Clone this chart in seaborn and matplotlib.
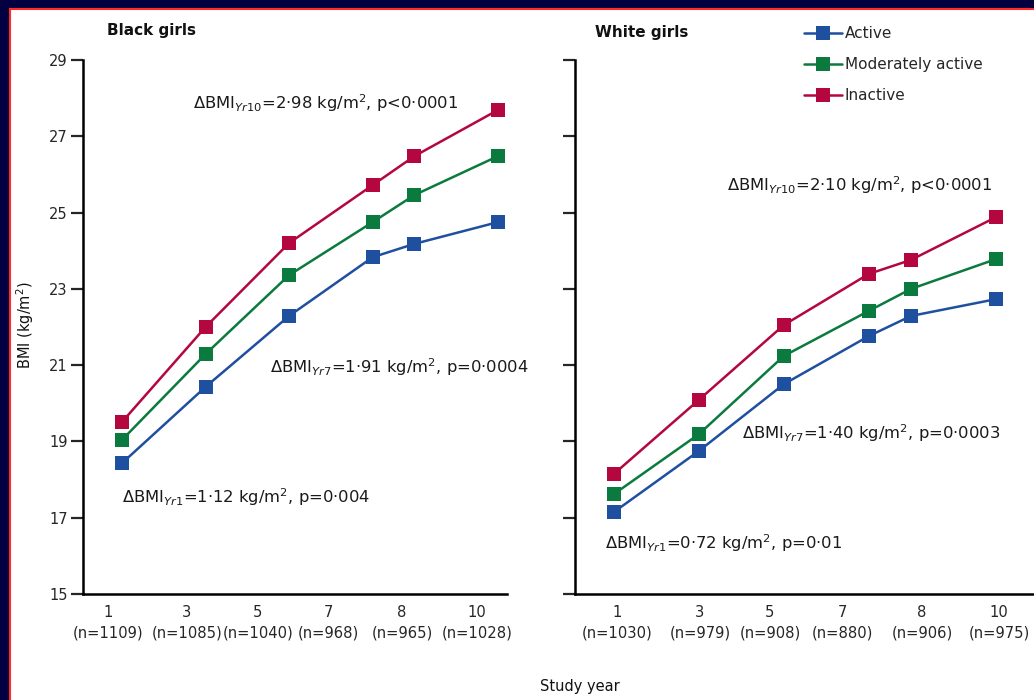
import numpy as np
import pandas as pd
import matplotlib
matplotlib.use("Agg")
import matplotlib.pyplot as plt
import seaborn as sns
from matplotlib.patches import Rectangle

# ---------------- data ----------------
years = [1, 3, 5, 7, 8, 10]
groups = ["Active", "Moderately active", "Inactive"]

black_active = [18.43, 20.43, 22.29, 23.83, 24.18, 24.75]
black_moderate = [19.04, 21.29, 23.36, 24.75, 25.46, 26.48]
black_inactive = [19.51, 22.00, 24.20, 25.72, 26.48, 27.69]

white_active = [17.15, 18.75, 20.50, 21.76, 22.29, 22.73]
white_moderate = [17.62, 19.19, 21.24, 22.42, 23.00, 23.78]
white_inactive = [18.15, 20.09, 22.05, 23.39, 23.76, 24.88]

black_n = [1109, 1085, 1040, 968, 965, 1028]
white_n = [1030, 979, 908, 880, 906, 975]

black_notes = [r"$\Delta$BMI$_{Yr10}$=2·98 kg/m$^2$, p<0·0001",
               r"$\Delta$BMI$_{Yr7}$=1·91 kg/m$^2$, p=0·0004",
               r"$\Delta$BMI$_{Yr1}$=1·12 kg/m$^2$, p=0·004"]
white_notes = [r"$\Delta$BMI$_{Yr10}$=2·10 kg/m$^2$, p<0·0001",
               r"$\Delta$BMI$_{Yr7}$=1·40 kg/m$^2$, p=0·0003",
               r"$\Delta$BMI$_{Yr1}$=0·72 kg/m$^2$, p=0·01"]

colors = ["#1f4f9f", "#0a7a3e", "#b4063f"]


def long_df(a, m, i):
    rows = []
    for g, vals in zip(groups, [a, m, i]):
        for y, v in zip(years, vals):
            rows.append({"year": y, "bmi": v, "group": g})
    return pd.DataFrame(rows)


df_black = long_df(black_active, black_moderate, black_inactive)
df_white = long_df(white_active, white_moderate, white_inactive)

# ---------------- figure ----------------
sns.set_theme(style="white")
plt.rcParams["font.family"] = ["DejaVu Sans"]
plt.rcParams["mathtext.fontset"] = "dejavusans"

W, H = 1034, 700
fig = plt.figure(figsize=(W / 100, H / 100), dpi=100, facecolor="#020040")

# white panel with red border
fig.add_artist(Rectangle((10 / W, -0.05), 1.2, (H - 9) / H + 0.05,
                         transform=fig.transFigure, facecolor="white",
                         edgecolor="#ff2a2a", linewidth=1.5, zorder=-5))


def px_axes(x0, x1, y0, y1):
    return fig.add_axes([x0 / W, 1 - y1 / H, (x1 - x0) / W, (y1 - y0) / H])


def setup(ax, df, ax_l, ax_r, px1, px10, label_px, ns, show_ylabels, legend):
    sns.lineplot(data=df, x="year", y="bmi", hue="group", hue_order=groups,
                 palette=colors, marker="s", markersize=9.5, markeredgewidth=0,
                 linewidth=1.8, ax=ax, legend=legend)
    s = (px10 - px1) / 9.0
    ax.set_xlim(1 - (px1 - ax_l) / s, 10 + (ax_r - px10) / s)
    ax.set_ylim(15, 29)
    ax.set_yticks(range(15, 30, 2))
    tick_pos = [1 + (p - px1) / s for p in label_px]
    ax.set_xticks(tick_pos)
    ax.set_xticklabels([f"{y}\n(n={n})" for y, n in zip(years, ns)],
                       fontsize=10.6, linespacing=1.45)
    ax.tick_params(axis="x", length=0, pad=8)
    ax.tick_params(axis="y", direction="out", length=9, width=1.6,
                   labelsize=10.5, pad=2, left=True, labelleft=show_ylabels)
    for sp in ["top", "right"]:
        ax.spines[sp].set_visible(False)
    for sp in ["left", "bottom"]:
        ax.spines[sp].set_color("black")
        ax.spines[sp].set_linewidth(1.8)
    ax.set_xlabel("")
    ax.set_ylabel("")
    ax.set_facecolor("white")


ax1 = px_axes(83, 507, 60, 594)
setup(ax1, df_black, 83, 507, 122, 498, [108, 187, 258, 328, 402, 477],
      black_n, True, False)

ax2 = px_axes(575, 1040, 60, 594)
setup(ax2, df_white, 575, 1040, 614, 996, [617, 700, 770, 842, 922, 999],
      white_n, False, True)

handles, labels = ax2.get_legend_handles_labels()
ax2.legend(handles, labels, loc="upper left",
           bbox_to_anchor=(798 / W, 1 - 20 / H), bbox_transform=fig.transFigure,
           frameon=False, fontsize=11, handlelength=2.5, handletextpad=0.15,
           labelspacing=1.05, borderaxespad=0)

# titles and labels
fig.text(107 / W, 1 - 30 / H, "Black girls", fontsize=11, fontweight="bold",
         ha="left", va="center", color="#111111")
fig.text(595 / W, 1 - 33 / H, "White girls", fontsize=11, fontweight="bold",
         ha="left", va="center", color="#111111")
fig.text(25 / W, 1 - 325 / H, r"BMI (kg/m$^2$)", fontsize=10.5, rotation=90,
         ha="center", va="center", color="#111111")
fig.text(580 / W, 1 - 686 / H, "Study year", fontsize=10.5, ha="center",
         va="center", color="#111111")

note_pos_black = [(193, 103), (270, 367), (122, 497)]
note_pos_white = [(727, 185), (742, 433), (605, 543)]
for txt, (x, y) in zip(black_notes + white_notes, note_pos_black + note_pos_white):
    fig.text(x / W, 1 - y / H, txt, fontsize=11.8, ha="left", va="center",
             color="#1a1a1a")

fig.savefig("out.png", dpi=100, facecolor=fig.get_facecolor())
